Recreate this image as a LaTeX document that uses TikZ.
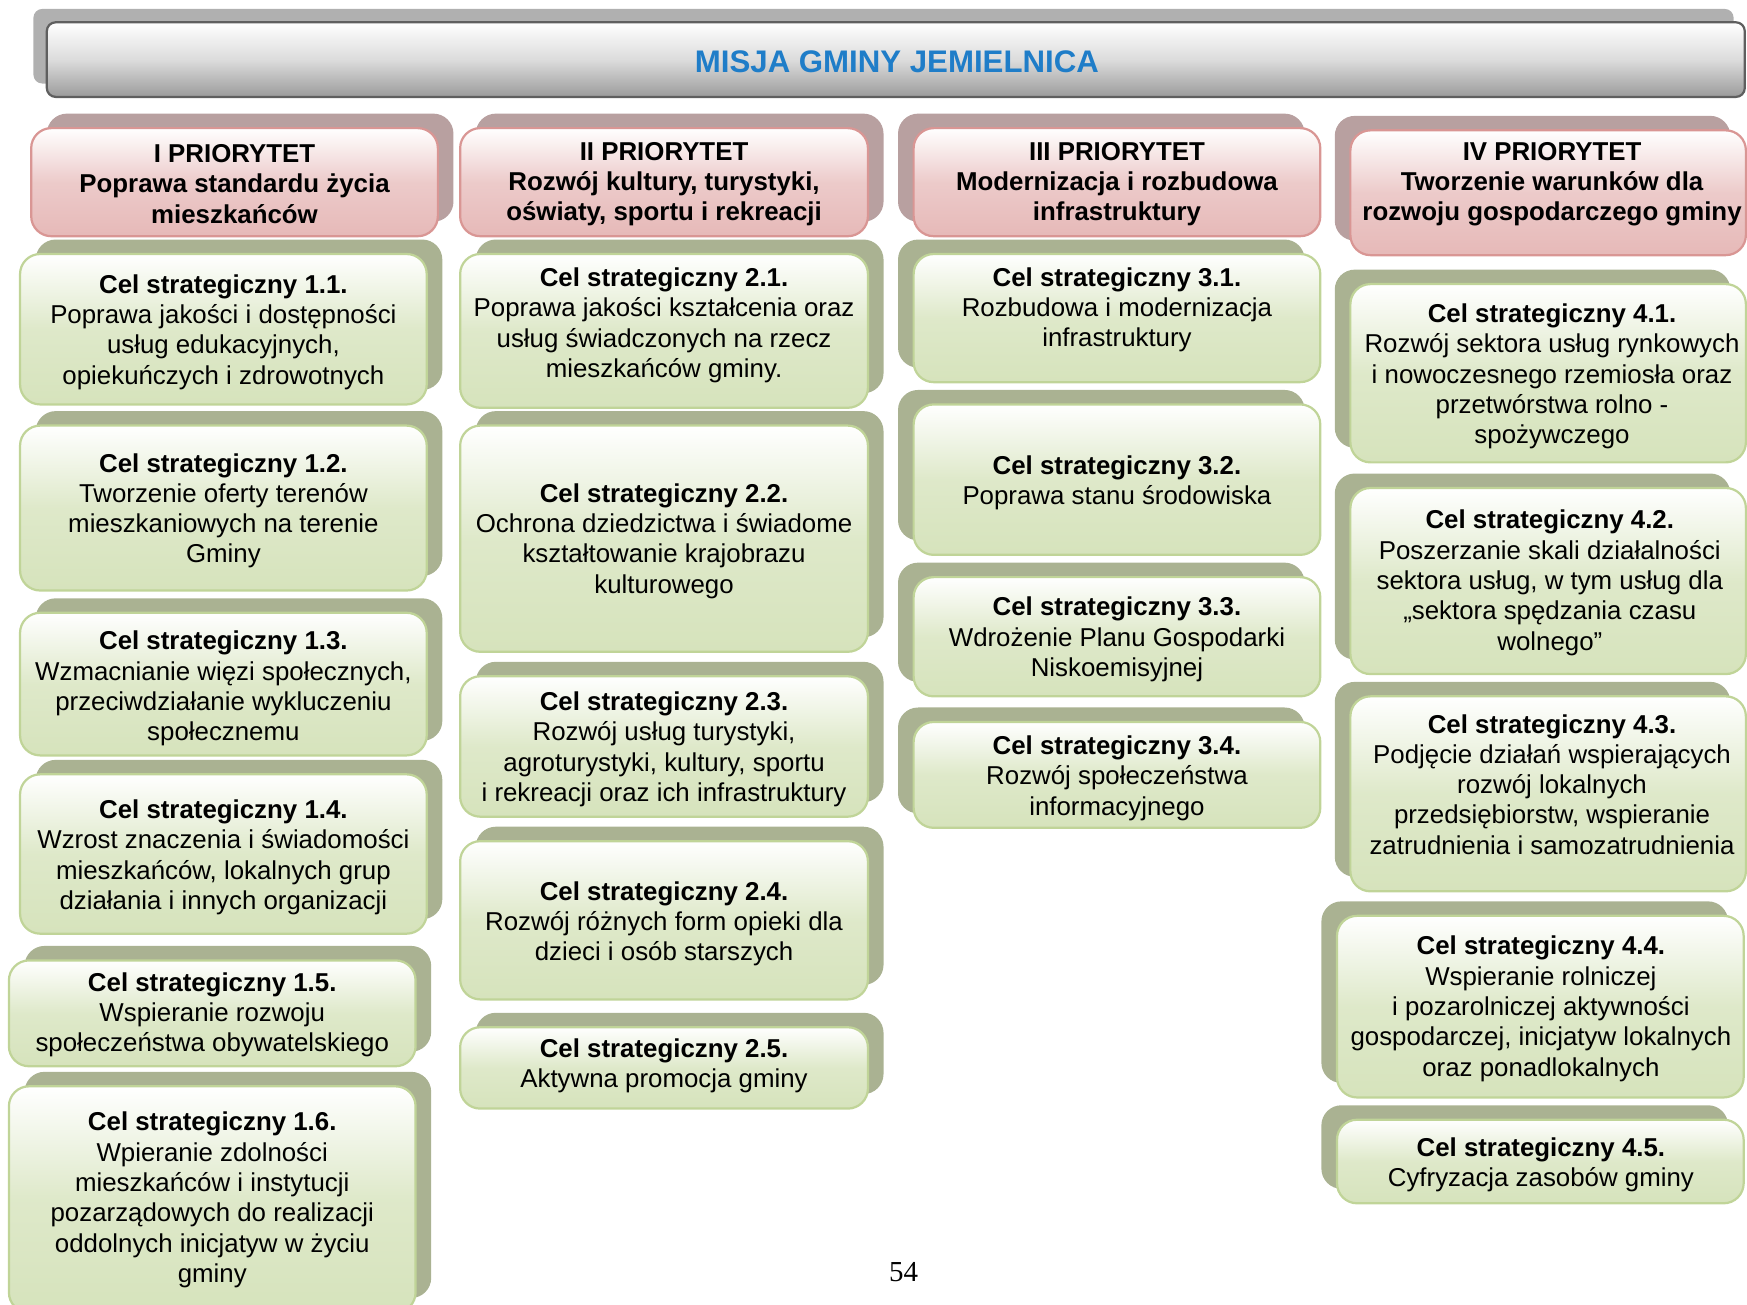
\documentclass[tikz,border=0pt]{standalone}
\usepackage{fontspec}
\setmainfont{Liberation Sans}
\newfontfamily\pagefont{Liberation Serif}
\usepackage{tikz}
\definecolor{misjablue}{RGB}{31,125,200}
\definecolor{pinkline}{RGB}{217,150,148}
\definecolor{pinkfill}{RGB}{230,185,184}
\definecolor{pinkshadow}{RGB}{184,160,160}
\definecolor{greenline}{RGB}{192,212,152}
\definecolor{greenfill}{RGB}{214,227,188}
\definecolor{greenshadow}{RGB}{170,178,146}
\definecolor{headline}{RGB}{95,95,95}
\definecolor{headfill}{RGB}{155,155,155}
\definecolor{headshadow}{RGB}{176,176,176}
\tikzset{
         headbox/.style={draw=headline,line width=1pt,rounded corners=4pt,
                         top color=white,bottom color=headfill,middle color=headfill!35!white},
         priobox/.style={draw=pinkline,line width=1pt,rounded corners=9pt,
                         top color=white,bottom color=pinkfill,middle color=pinkfill!75!white},
         celbox/.style={draw=greenline,line width=1pt,rounded corners=9pt,
                        top color=white,bottom color=greenfill,middle color=greenfill!80!white},
         shadowpink/.style={fill=pinkshadow,rounded corners=9pt},
         shadowgreen/.style={fill=greenshadow,rounded corners=9pt},
         txt/.style={font=\fontsize{11.6}{13.6}\selectfont,align=center,inner sep=0pt,yshift=-1pt},
         prio/.style={font=\fontsize{11.6}{13.6}\selectfont\bfseries,align=center,inner sep=0pt,yshift=-0.6pt}
        }

\begin{document}
\begin{tikzpicture}[x=0.5pt,y=-0.5pt]
\useasboundingbox (0,0) rectangle (1568,1171);
\clip (0,0) rectangle (1568,1171);
%header
\fill[headshadow,rounded corners=4pt](30,8) rectangle (1556,75);
\draw[headbox](42,20) rectangle (1566,87);
%priorities
\foreach \xa/\ya/\xb/\yb/\dx in {28/115/393/212/14,413/115/779/212/14,820/115/1185/212/-14,1212/117/1567/229/-14}{
\fill[shadowpink](\xa+\dx,\ya-13) rectangle (\xb+\dx,\yb-13);
\draw[priobox](\xa,\ya) rectangle (\xb,\yb);
}
%goals
\foreach \xa/\ya/\xb/\yb/\dx in {18/228/383/363/14,18/382/383/530/14,18/550/383/678/14,18/695/383/838/14,
  8/862/373/957/14,8/975/373/1178/14,
  413/228/779/366/14,413/382/779/585/14,413/607/779/733/14,413/755/779/897/14,413/922/779/995/14,
  820/228/1185/343/-14,820/363/1185/498/-14,820/518/1185/625/-14,820/648/1185/743/-14,
  1212/255/1567/415/-14,1212/438/1567/605/-14,1212/625/1567/800/-14,1200/822/1565/985/-14,1200/1005/1565/1080/-14}{
\fill[shadowgreen](\xa+\dx,\ya-13) rectangle (\xb+\dx,\yb-13);
\draw[celbox](\xa,\ya) rectangle (\xb,\yb);
}
%labels
\node[font=\fontsize{14}{16}\selectfont\bfseries,text=misjablue] (misja) at (805,55) {MISJA GMINY JEMIELNICA};
\node[prio] (p1) at (210.5,164) {I PRIORYTET\\Poprawa standardu życia\\mieszkańców};
\node[prio] (p2) at (596,164) {II PRIORYTET\\Rozwój kultury, turystyki,\\oświaty, sportu i rekreacji};
\node[prio] (p3) at (1002.5,164) {III PRIORYTET\\Modernizacja i rozbudowa\\infrastruktury};
\node[prio] (p4) at (1393,164) {IV PRIORYTET\\Tworzenie warunków dla\\rozwoju gospodarczego gminy};
\node[txt] (c11) at (200.5,296) {\textbf{Cel strategiczny 1.1.}\\Poprawa jakości i dostępności\\usług edukacyjnych,\\opiekuńczych i zdrowotnych};
\node[txt] (c12) at (200.5,456.5) {\textbf{Cel strategiczny 1.2.}\\Tworzenie oferty terenów\\mieszkaniowych na terenie\\Gminy};
\node[txt] (c13) at (200.5,616) {\textbf{Cel strategiczny 1.3.}\\Wzmacnianie więzi społecznych,\\przeciwdziałanie wykluczeniu\\społecznemu};
\node[txt] (c14) at (200.5,767.5) {\textbf{Cel strategiczny 1.4.}\\Wzrost znaczenia i świadomości\\mieszkańców, lokalnych grup\\działania i innych organizacji};
\node[txt] (c15) at (190.5,909) {\textbf{Cel strategiczny 1.5.}\\Wspieranie rozwoju\\społeczeństwa obywatelskiego};
\node[txt] (c16) at (190.5,1075) {\textbf{Cel strategiczny 1.6.}\\Wpieranie zdolności\\mieszkańców i instytucji\\pozarządowych do realizacji\\oddolnych inicjatyw w życiu\\gminy};
\node[txt] (c21) at (596,290) {\textbf{Cel strategiczny 2.1.}\\Poprawa jakości kształcenia oraz\\usług świadczonych na rzecz\\mieszkańców gminy.};
\node[txt] (c22) at (596,483.5) {\textbf{Cel strategiczny 2.2.}\\Ochrona dziedzictwa i świadome\\kształtowanie krajobrazu\\kulturowego};
\node[txt] (c23) at (596,670.5) {\textbf{Cel strategiczny 2.3.}\\Rozwój usług turystyki,\\agroturystyki, kultury, sportu\\i rekreacji oraz ich infrastruktury};
\node[txt] (c24) at (596,827) {\textbf{Cel strategiczny 2.4.}\\Rozwój różnych form opieki dla\\dzieci i osób starszych};
\node[txt] (c25) at (596,954.5) {\textbf{Cel strategiczny 2.5.}\\Aktywna promocja gminy};
\node[txt] (c31) at (1002.5,276) {\textbf{Cel strategiczny 3.1.}\\Rozbudowa i modernizacja\\infrastruktury};
\node[txt] (c32) at (1002.5,431.5) {\textbf{Cel strategiczny 3.2.}\\Poprawa stanu środowiska};
\node[txt] (c33) at (1002.5,572) {\textbf{Cel strategiczny 3.3.}\\Wdrożenie Planu Gospodarki\\Niskoemisyjnej};
\node[txt] (c34) at (1002.5,696.5) {\textbf{Cel strategiczny 3.4.}\\Rozwój społeczeństwa\\informacyjnego};
\node[txt] (c41) at (1393,336) {\textbf{Cel strategiczny 4.1.}\\Rozwój sektora usług rynkowych\\i nowoczesnego rzemiosła oraz\\przetwórstwa rolno -\\spożywczego};
\node[txt] (c42) at (1391,521) {\textbf{Cel strategiczny 4.2.}\\Poszerzanie skali działalności\\sektora usług, w tym usług dla\\„sektora spędzania czasu\\wolnego”};
\node[txt] (c43) at (1393,702) {\textbf{Cel strategiczny 4.3.}\\Podjęcie działań wspierających\\rozwój lokalnych\\przedsiębiorstw, wspieranie\\zatrudnienia i samozatrudnienia};
\node[txt] (c44) at (1383,903.5) {\textbf{Cel strategiczny 4.4.}\\Wspieranie rolniczej\\i pozarolniczej aktywności\\gospodarczej, inicjatyw lokalnych\\oraz ponadlokalnych};
\node[txt] (c45) at (1383,1043.5) {\textbf{Cel strategiczny 4.5.}\\Cyfryzacja zasobów gminy};
\node[font=\pagefont\fontsize{13}{15}\selectfont] (strona) at (811,1142) {54};
\end{tikzpicture}
\end{document}
